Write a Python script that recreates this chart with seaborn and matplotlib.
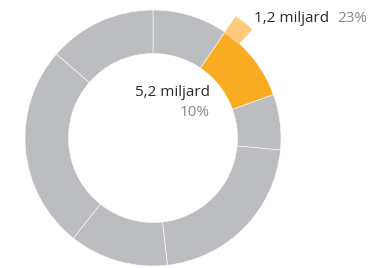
import matplotlib
matplotlib.use("Agg")
import matplotlib.pyplot as plt
import seaborn as sns

# Data: shares of the ring (percent), clockwise from 12 o'clock
segments = ["s1", "highlight", "s3", "s4", "s5", "s6", "s7"]
shares = [9.5, 10.0, 7.0, 21.7, 12.5, 25.7, 13.6]
highlight_index = 1
main_label = "5,2 miljard"
main_pct = "10%"
sub_label = "1,2 miljard"
sub_pct = "23%"
sub_fraction = 0.23

sns.set_theme(style="white")
plt.rcParams["font.family"] = ["Open Sans", "DejaVu Sans"]

grey = "#bcbdc0"
orange = "#f9ac21"
light_orange = "#fec97a"
colors = [orange if i == highlight_index else grey for i in range(len(shares))]

W, H = 369, 268
fig = plt.figure(figsize=(W / 100, H / 100), dpi=100)
ax = fig.add_axes([0, 0, 1, 1])

R_px = 128.0
cx, cy = 153.0, 138.0

ax.pie(shares, colors=colors, startangle=90, counterclock=False, radius=1.0,
       wedgeprops=dict(width=0.34, edgecolor="white", linewidth=0.4))

# pulled-out sub share of the highlighted segment
before = sum(shares[:highlight_index])
sub = shares[highlight_index] * sub_fraction
rest = 100 - before - sub
ax.pie([before, sub, rest], colors=["none", light_orange, "none"], startangle=90,
       counterclock=False, radius=1.15,
       wedgeprops=dict(width=0.16, edgecolor="none", linewidth=0))

ax.set_xlim(-cx / R_px, (W - cx) / R_px)
ax.set_ylim(-(H - cy) / R_px, cy / R_px)
ax.set_aspect("auto")
ax.axis("off")

def px(x, y):
    return (x - cx) / R_px, (cy - y) / R_px

fs = 11
ax.text(*px(210, 92), main_label, ha="right", va="center", fontsize=fs, color="#2b2b2b")
ax.text(*px(210, 113), main_pct, ha="right", va="center", fontsize=fs, color="#8a8a8a")
ax.text(*px(254, 19), sub_label, ha="left", va="center", fontsize=fs, color="#2b2b2b")
ax.text(*px(367, 19), sub_pct, ha="right", va="center", fontsize=fs, color="#8a8a8a")

fig.savefig("out.png", dpi=100)
